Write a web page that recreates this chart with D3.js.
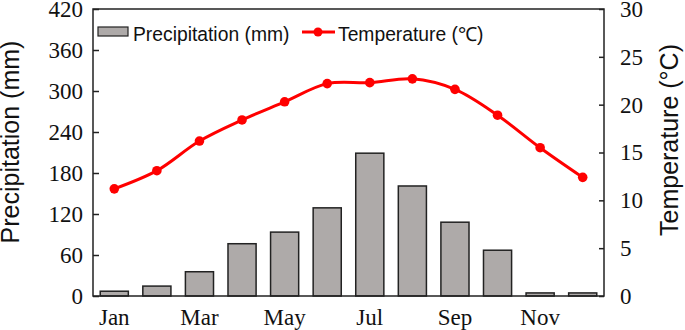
<!DOCTYPE html>
<html>
<head>
<meta charset="utf-8">
<script src="https://cdn.jsdelivr.net/npm/d3@7"></script>
<style>
  body { margin: 0; background: #fff; }
  svg { display: block; }
</style>
</head>
<body>
<div id="chart"></div>
<script>
const months = ["Jan", "Feb", "Mar", "Apr", "May", "Jun", "Jul", "Aug", "Sep", "Oct", "Nov", "Dec"];
const precipitation = [7, 14.5, 35.5, 76.5, 93.5, 129, 209, 161, 108, 67, 4.5, 4.5];
const temperature = [11.2, 13.1, 16.2, 18.4, 20.3, 22.2, 22.3, 22.7, 21.6, 18.9, 15.5, 12.4];
const precipTicks = [0, 60, 120, 180, 240, 300, 360, 420];
const tempTicks = [0, 5, 10, 15, 20, 25, 30];
const monthLabels = ["Jan", "Mar", "May", "Jul", "Sep", "Nov"];

const width = 685, height = 330;
const margin = { top: 9, right: 81, bottom: 34, left: 93 };
const plotW = width - margin.left - margin.right;
const plotH = height - margin.top - margin.bottom;

const svg = d3.select("#chart").append("svg")
    .attr("width", width)
    .attr("height", height);

const g = svg.append("g")
    .attr("transform", `translate(${margin.left},${margin.top})`);

const x = d3.scaleBand()
    .domain(months)
    .range([0, plotW])
    .paddingInner(0.34)
    .paddingOuter(0.17);

const yP = d3.scaleLinear().domain([0, 420]).range([plotH, 0]);
const yT = d3.scaleLinear().domain([0, 30]).range([plotH, 0]);

const serif = "Liberation Serif, Times New Roman, serif";
const sans = "Liberation Sans, Arial, sans-serif";

// bars
g.selectAll("rect.bar")
    .data(months)
    .enter()
    .append("rect")
    .attr("class", "bar")
    .attr("x", d => x(d))
    .attr("y", (d, i) => yP(precipitation[i]))
    .attr("width", x.bandwidth())
    .attr("height", (d, i) => plotH - yP(precipitation[i]))
    .attr("fill", "#aeaaa9")
    .attr("stroke", "#222")
    .attr("stroke-width", 1.5);

// temperature line
const cx = d => x(d) + x.bandwidth() / 2;
const line = d3.line()
    .x(d => cx(d))
    .y((d, i) => yT(temperature[i]))
    .curve(d3.curveCatmullRom.alpha(0.5));

g.append("path")
    .datum(months)
    .attr("d", line)
    .attr("fill", "none")
    .attr("stroke", "#ff0000")
    .attr("stroke-width", 3);

g.selectAll("circle.pt")
    .data(months)
    .enter()
    .append("circle")
    .attr("class", "pt")
    .attr("cx", d => cx(d))
    .attr("cy", (d, i) => yT(temperature[i]))
    .attr("r", 4.8)
    .attr("fill", "#ff0000");

// frame
g.append("rect")
    .attr("width", plotW)
    .attr("height", plotH)
    .attr("fill", "none")
    .attr("stroke", "#222")
    .attr("stroke-width", 1.5);

function styleAxis(ax) {
    ax.attr("font-family", serif).attr("font-size", 23);
    ax.select(".domain").remove();
    ax.selectAll("line").attr("stroke", "#222").attr("stroke-width", 1.5);
    ax.selectAll("text")
        .style("font-family", serif)
        .style("font-size", "23px")
        .attr("fill", "#111");
}

// left axis (ticks inward)
const leftAxis = g.append("g")
    .call(d3.axisLeft(yP).tickValues(precipTicks).tickSize(-6).tickPadding(10));
styleAxis(leftAxis);

// right axis
const rightAxis = g.append("g")
    .attr("transform", `translate(${plotW},0)`)
    .call(d3.axisRight(yT).tickValues(tempTicks).tickSize(-5).tickPadding(16));
styleAxis(rightAxis);

// bottom axis, every other month label
const bottomAxis = g.append("g")
    .attr("transform", `translate(0,${plotH})`)
    .call(d3.axisBottom(x).tickValues(monthLabels).tickSize(0).tickPadding(13));
styleAxis(bottomAxis);

// axis titles
svg.append("text")
    .attr("transform", `translate(19,${margin.top + 133}) rotate(-90)`)
    .attr("text-anchor", "middle")
    .style("font-family", sans)
    .style("font-size", "25px")
    .attr("fill", "#111")
    .text("Precipitation (mm)");

svg.append("text")
    .attr("transform", `translate(678,${margin.top + 131}) rotate(-90)`)
    .attr("text-anchor", "middle")
    .style("font-family", sans)
    .style("font-size", "25px")
    .attr("fill", "#111")
    .text("Temperature (°C)");

// legend
const legend = svg.append("g");
legend.append("rect")
    .attr("x", 98).attr("y", 27)
    .attr("width", 30).attr("height", 9)
    .attr("fill", "#aeaaa9")
    .attr("stroke", "#222")
    .attr("stroke-width", 1.2);
legend.append("text")
    .attr("x", 133).attr("y", 41)
    .style("font-family", sans)
    .style("font-size", "19.3px")
    .attr("fill", "#111")
    .text("Precipitation (mm)");
legend.append("line")
    .attr("x1", 302).attr("x2", 335)
    .attr("y1", 32).attr("y2", 32)
    .attr("stroke", "#ff0000")
    .attr("stroke-width", 3);
legend.append("circle")
    .attr("cx", 318).attr("cy", 32).attr("r", 4.5)
    .attr("fill", "#ff0000");
legend.append("text")
    .attr("x", 338).attr("y", 41)
    .style("font-family", sans)
    .style("font-size", "19.3px")
    .attr("fill", "#111")
    .text("Temperature (℃)");
</script>
</body>
</html>
